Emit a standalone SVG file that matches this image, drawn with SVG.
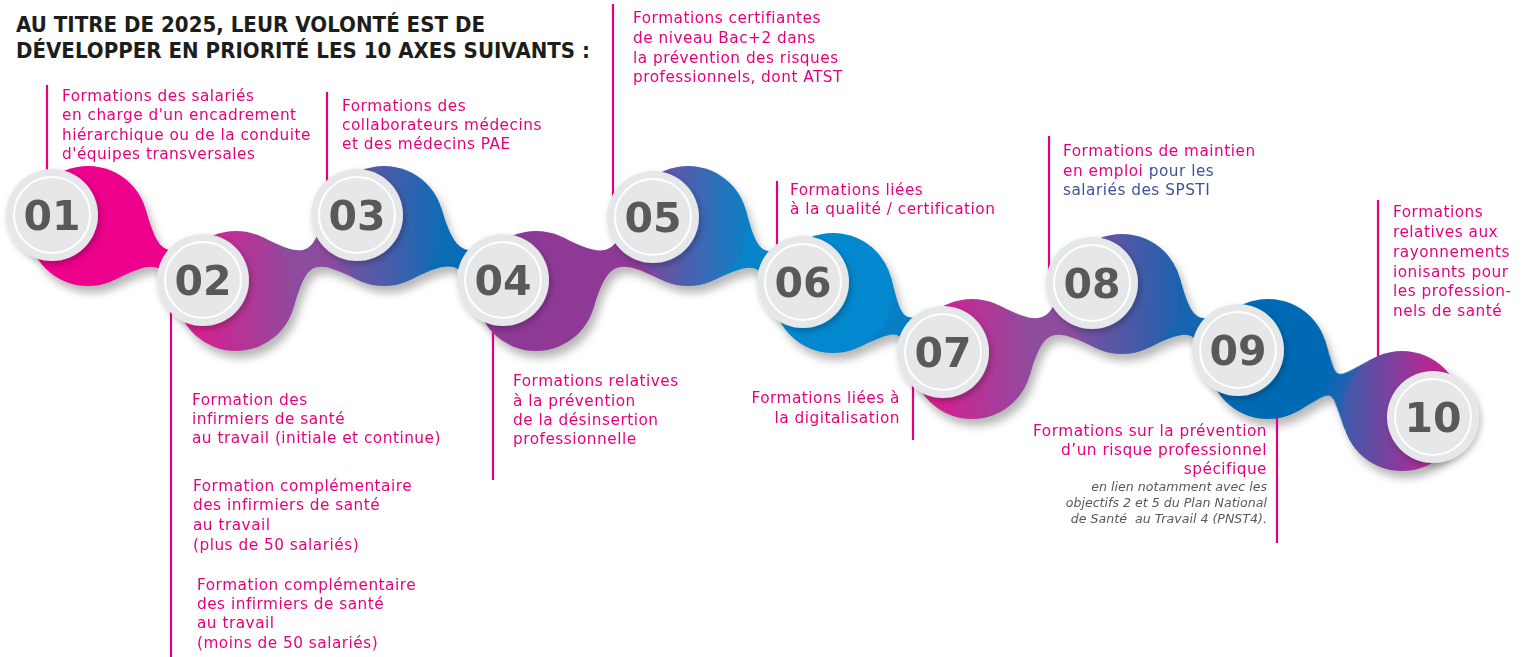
<svg xmlns="http://www.w3.org/2000/svg" width="1525" height="657" viewBox="0 0 1525 657">
<defs>
<style>
.lbl{font-family:"DejaVu Sans","Noto Sans",sans-serif;font-size:15.3px;letter-spacing:0.5px;fill:#e6007e}
.end{text-anchor:end}
.blue{fill:#3f4f9c}
.lead{stroke:#e6007e;stroke-width:2.2;fill:none}
.grey{fill:#e6e7e8;filter:url(#gsh)}
.ring{fill:none;stroke:#fff;stroke-width:2}
.num{font-family:"DejaVu Sans",sans-serif;font-weight:700;font-size:41px;fill:#58595b;text-anchor:middle}
.ttl{font-family:"DejaVu Sans",sans-serif;font-weight:700;font-size:21px;fill:#1d1d1b}
.note{font-family:"DejaVu Sans",sans-serif;font-style:italic;font-size:12.6px;fill:#58595b;text-anchor:end}
</style>
<linearGradient id="g02" gradientUnits="userSpaceOnUse" x1="176" y1="0" x2="296" y2="0"><stop offset="0" stop-color="#e8178d"/><stop offset="1" stop-color="#8d4b9e"/></linearGradient>
<linearGradient id="g03" gradientUnits="userSpaceOnUse" x1="324" y1="0" x2="444" y2="0"><stop offset="0" stop-color="#8c4c9f"/><stop offset="1" stop-color="#0b6cb6"/></linearGradient>
<linearGradient id="g05" gradientUnits="userSpaceOnUse" x1="628" y1="0" x2="748" y2="0"><stop offset="0" stop-color="#8b4199"/><stop offset="1" stop-color="#0a80c6"/></linearGradient>
<linearGradient id="g07" gradientUnits="userSpaceOnUse" x1="912" y1="0" x2="1032" y2="0"><stop offset="0" stop-color="#e5168c"/><stop offset="1" stop-color="#8e4c9e"/></linearGradient>
<linearGradient id="g08" gradientUnits="userSpaceOnUse" x1="1062" y1="0" x2="1182" y2="0"><stop offset="0" stop-color="#8a4d9f"/><stop offset="1" stop-color="#1a62ae"/></linearGradient>
<linearGradient id="g10" gradientUnits="userSpaceOnUse" x1="1343" y1="0" x2="1462" y2="0"><stop offset="0" stop-color="#3a5caa"/><stop offset="1" stop-color="#e2158c"/></linearGradient>
<linearGradient id="gn9" x1="0" y1="0" x2="1" y2="0"><stop offset="0.3" stop-color="#0069b4"/><stop offset="1" stop-color="#3a5caa"/></linearGradient>
<filter id="bsh" x="-5%" y="-20%" width="110%" height="150%">
<feGaussianBlur in="SourceAlpha" stdDeviation="4"/>
<feOffset dx="4" dy="7" result="b"/>
<feFlood flood-color="#000" flood-opacity="0.28"/>
<feComposite in2="b" operator="in"/>
</filter>
<filter id="gsh" x="-30%" y="-30%" width="160%" height="160%"><feDropShadow dx="2" dy="3" stdDeviation="3" flood-color="#000" flood-opacity="0.25"/></filter>
</defs>
<rect width="1525" height="657" fill="#fff"/>

<g id="title">
<text class="ttl" x="16" y="32" textLength="469" lengthAdjust="spacingAndGlyphs">AU TITRE DE 2025, LEUR VOLONTÉ EST DE</text>
<text class="ttl" x="16" y="58" textLength="574" lengthAdjust="spacingAndGlyphs">DÉVELOPPER EN PRIORITÉ LES 10 AXES SUIVANTS :</text>
</g>

<g id="shadows" filter="url(#bsh)">
<use href="#connectors"/>
<use href="#b01"/><use href="#b02"/><use href="#b03"/><use href="#b04"/><use href="#b05"/>
<use href="#b06"/><use href="#b07"/><use href="#b08"/><use href="#b09"/><use href="#b10"/>
</g>

<g id="connectors">
<path fill="#ec008c" transform="translate(88 226) rotate(23.71)" d="M46 38.6C77.4 1.1 84.2 1.1 115.6 38.6L115.6 -38.6C84.2 -1.1 77.4 -1.1 46 -38.6Z"/>
<path fill="#8d4b9e" transform="translate(236 291) rotate(-23.71)" d="M46 38.6C77.4 1.1 84.2 1.1 115.6 38.6L115.6 -38.6C84.2 -1.1 77.4 -1.1 46 -38.6Z"/>
<path fill="#0b6cb6" transform="translate(384 226) rotate(23.15)" d="M46 38.6C77.4 1.1 87.9 1.1 119.3 38.6L119.3 -38.6C87.9 -1.1 77.4 -1.1 46 -38.6Z"/>
<path fill="#8e3996" transform="translate(536 291) rotate(-23.15)" d="M46 38.6C77.4 1.1 87.9 1.1 119.3 38.6L119.3 -38.6C87.9 -1.1 77.4 -1.1 46 -38.6Z"/>
<path fill="#0784c9" transform="translate(688 226) rotate(24.8)" d="M46 38.6C77.4 1.1 82.3 1.1 113.7 38.6L113.7 -38.6C82.3 -1.1 77.4 -1.1 46 -38.6Z"/>
<path fill="#087fc4" transform="translate(833 293) rotate(25.4)" d="M46 38.6C77.4 1.1 76.5 1.1 107.9 38.6L107.9 -38.6C76.5 -1.1 77.4 -1.1 46 -38.6Z"/>
<path fill="#8e4c9e" transform="translate(972 359) rotate(-23.43)" d="M46 38.6C77.4 1.1 86.1 1.1 117.5 38.6L117.5 -38.6C86.1 -1.1 77.4 -1.1 46 -38.6Z"/>
<path fill="#1565b0" transform="translate(1122 294) rotate(24)" d="M46 38.6C77.4 1.1 82.4 1.1 113.8 38.6L113.8 -38.6C82.4 -1.1 77.4 -1.1 46 -38.6Z"/>
<path fill="url(#gn9)" transform="translate(1268 359) rotate(21.21)" d="M46 38.6C75 3 66.3 3 97.7 38.6L97.7 -38.6C66.3 -3 75 -3 46 -38.6Z"/>
</g>

<g id="node-01">
<line class="lead" x1="47" y1="85" x2="47" y2="180"/>
<circle id="b01" cx="88" cy="226" r="60" fill="#ec008c"/>
<circle class="grey" cx="52" cy="215" r="46"/>
<circle class="ring" cx="52" cy="215" r="38"/>
<text class="num" x="52" y="230">01</text>
<text class="lbl"><tspan x="62" y="101">Formations des salariés</tspan><tspan x="62" y="120">en charge d'un encadrement</tspan><tspan x="62" y="140">hiérarchique ou de la conduite</tspan><tspan x="62" y="159">d'équipes transversales</tspan></text>
</g>

<g id="node-02">
<line class="lead" x1="171" y1="300" x2="171" y2="657"/>
<circle id="b02" cx="236" cy="291" r="60" fill="url(#g02)"/>
<circle class="grey" cx="203" cy="280" r="46"/>
<circle class="ring" cx="203" cy="280" r="38"/>
<text class="num" x="203" y="295">02</text>
<text class="lbl"><tspan x="192" y="405">Formation des</tspan><tspan x="192" y="424">infirmiers de santé</tspan><tspan x="192" y="443">au travail (initiale et continue)</tspan></text>
<text class="lbl"><tspan x="193" y="491">Formation complémentaire</tspan><tspan x="193" y="510">des infirmiers de santé</tspan><tspan x="193" y="530">au travail</tspan><tspan x="193" y="550">(plus de 50 salariés)</tspan></text>
<text class="lbl"><tspan x="197" y="590">Formation complémentaire</tspan><tspan x="197" y="609">des infirmiers de santé</tspan><tspan x="197" y="628">au travail</tspan><tspan x="197" y="648">(moins de 50 salariés)</tspan></text>
</g>

<g id="node-03">
<line class="lead" x1="327" y1="92" x2="327" y2="185"/>
<circle id="b03" cx="384" cy="226" r="60" fill="url(#g03)"/>
<circle class="grey" cx="357" cy="215" r="46"/>
<circle class="ring" cx="357" cy="215" r="38"/>
<text class="num" x="357" y="230">03</text>
<text class="lbl"><tspan x="342" y="111">Formations des</tspan><tspan x="342" y="130">collaborateurs médecins</tspan><tspan x="342" y="149">et des médecins PAE</tspan></text>
</g>

<g id="node-04">
<line class="lead" x1="493" y1="320" x2="493" y2="480"/>
<circle id="b04" cx="536" cy="291" r="60" fill="#8e3996"/>
<circle class="grey" cx="503" cy="280" r="46"/>
<circle class="ring" cx="503" cy="280" r="38"/>
<text class="num" x="503" y="295">04</text>
<text class="lbl"><tspan x="513" y="386">Formations relatives</tspan><tspan x="513" y="406">à la prévention</tspan><tspan x="513" y="425">de la désinsertion</tspan><tspan x="513" y="444">professionnelle</tspan></text>
</g>

<g id="node-05">
<line class="lead" x1="613" y1="4" x2="613" y2="200"/>
<circle id="b05" cx="688" cy="226" r="60" fill="url(#g05)"/>
<circle class="grey" cx="653" cy="217" r="46"/>
<circle class="ring" cx="653" cy="217" r="38"/>
<text class="num" x="653" y="232">05</text>
<text class="lbl"><tspan x="633" y="23">Formations certifiantes</tspan><tspan x="633" y="43">de niveau Bac+2 dans</tspan><tspan x="633" y="63">la prévention des risques</tspan><tspan x="633" y="82">professionnels, dont ATST</tspan></text>
</g>

<g id="node-06">
<line class="lead" x1="777" y1="181" x2="777" y2="249"/>
<circle id="b06" cx="833" cy="293" r="60" fill="#0388cf"/>
<circle class="grey" cx="803" cy="282" r="46"/>
<circle class="ring" cx="803" cy="282" r="38"/>
<text class="num" x="803" y="297">06</text>
<text class="lbl"><tspan x="790" y="195">Formations liées</tspan><tspan x="790" y="214">à la qualité / certification</tspan></text>
</g>

<g id="node-07">
<line class="lead" x1="913" y1="370" x2="913" y2="440"/>
<circle id="b07" cx="972" cy="359" r="60" fill="url(#g07)"/>
<circle class="grey" cx="943" cy="352" r="46"/>
<circle class="ring" cx="943" cy="352" r="38"/>
<text class="num" x="943" y="367">07</text>
<text class="lbl end"><tspan x="900" y="403">Formations liées à</tspan><tspan x="900" y="423">la digitalisation</tspan></text>
</g>

<g id="node-08">
<line class="lead" x1="1049" y1="136" x2="1049" y2="270"/>
<circle id="b08" cx="1122" cy="294" r="60" fill="url(#g08)"/>
<circle class="grey" cx="1092" cy="283" r="46"/>
<circle class="ring" cx="1092" cy="283" r="38"/>
<text class="num" x="1092" y="298">08</text>
<text class="lbl"><tspan x="1063" y="156">Formations de maintien</tspan><tspan x="1063" y="176">en emploi <tspan class="blue">pour les</tspan></tspan><tspan class="blue" x="1063" y="195">salariés des SPSTI</tspan></text>
</g>

<g id="node-09">
<line class="lead" x1="1277" y1="400" x2="1277" y2="543"/>
<circle id="b09" cx="1268" cy="359" r="60" fill="#0069b4"/>
<circle class="grey" cx="1238" cy="350" r="46"/>
<circle class="ring" cx="1238" cy="350" r="38"/>
<text class="num" x="1238" y="365">09</text>
<text class="lbl end"><tspan x="1267" y="436">Formations sur la prévention</tspan><tspan x="1267" y="455">d’un risque professionnel</tspan><tspan x="1267" y="474">spécifique</tspan></text>
<text class="note" xml:space="preserve"><tspan x="1267" y="491">en lien notamment avec les</tspan><tspan x="1267" y="507">objectifs 2 et 5 du Plan National</tspan><tspan x="1267" y="523">de Santé  au Travail 4 (PNST4).</tspan></text>
</g>

<g id="node-10">
<line class="lead" x1="1378" y1="200" x2="1378" y2="360"/>
<circle id="b10" cx="1402" cy="411" r="60" fill="url(#g10)"/>
<circle class="grey" cx="1433" cy="417" r="46"/>
<circle class="ring" cx="1433" cy="417" r="38"/>
<text class="num" x="1433" y="432">10</text>
<text class="lbl"><tspan x="1393" y="217">Formations</tspan><tspan x="1393" y="237">relatives aux</tspan><tspan x="1393" y="257">rayonnements</tspan><tspan x="1393" y="277">ionisants pour</tspan><tspan x="1393" y="296">les profession-</tspan><tspan x="1393" y="316">nels de santé</tspan></text>
</g>
</svg>
